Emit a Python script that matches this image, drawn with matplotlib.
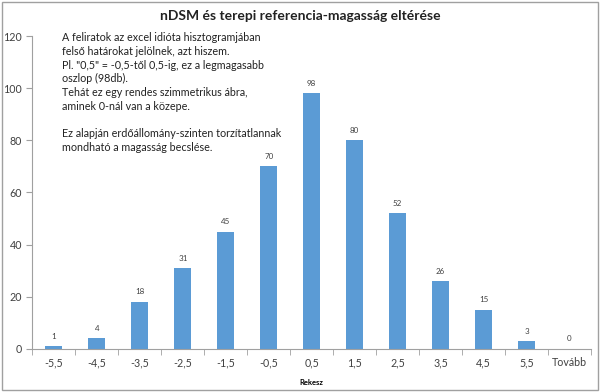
#!/usr/bin/env python3

import matplotlib.pyplot as plt
from matplotlib.patches import Rectangle

# Histogram bins (upper limits, as Excel labels them) and counts
bins = ['-5,5', '-4,5', '-3,5', '-2,5', '-1,5', '-0,5', '0,5',
        '1,5', '2,5', '3,5', '4,5', '5,5', 'Tovább']
counts = [1, 4, 18, 31, 45, 70, 98, 80, 52, 26, 15, 3, 0]

title = 'nDSM és terepi referencia-magasság eltérése'
note = ('A feliratok az excel idióta hisztogramjában\n'
        'felső határokat jelölnek, azt hiszem.\n'
        'Pl. "0,5" = -0,5-től 0,5-ig, ez a legmagasabb\n'
        'oszlop (98db).\n'
        'Tehát ez egy rendes szimmetrikus ábra,\n'
        'aminek 0-nál van a közepe.\n'
        '\n'
        'Ez alapján erdőállomány-szinten torzítatlannak\n'
        'mondható a magasság becslése.')

plt.rcParams['font.family'] = ['Lato', 'DejaVu Sans']

fig = plt.figure(figsize=(6, 3.92), dpi=100)
ax = fig.add_axes([0.054, 0.110, 0.931, 0.798])

x = list(range(len(bins)))
ax.bar(x, counts, width=0.4, color='#5B9BD5')

# value labels above each bar
for xi, c in zip(x, counts):
    ax.text(xi, c + 2.5, str(c), ha='center', va='bottom', fontsize=5.8,
            color='#404040')

ax.set_xlim(-0.5, len(bins) - 0.5)
ax.set_ylim(0, 120)
ax.set_yticks(range(0, 121, 20))
ax.set_xticks(x)
ax.set_xticklabels(bins)
ax.set_xticks([i - 0.5 for i in range(len(bins) + 1)], minor=True)
ax.tick_params(axis='x', which='major', length=0, labelsize=7.7, pad=6,
               colors='#404040')
ax.tick_params(axis='x', which='minor', length=4, color='#a0a0a0')
ax.tick_params(axis='y', length=4, color='#a0a0a0', labelsize=7.7,
               labelcolor='#404040')

for side in ['top', 'right']:
    ax.spines[side].set_visible(False)
for side in ['left', 'bottom']:
    ax.spines[side].set_color('#a0a0a0')
    ax.spines[side].set_linewidth(0.8)

ax.set_xlabel('Rekesz', fontsize=5.5, fontweight='bold', labelpad=8)

fig.text(0.5, 0.958, title, ha='center', va='center', fontsize=10,
         fontweight='bold', color='#222222')
fig.text(0.103, 0.918, note, ha='left', va='top', fontsize=7.75,
         linespacing=1.3, color='#222222')

# grey frame around the whole chart
fig.patches.append(Rectangle((0.004, 0.005), 0.992, 0.99,
                             transform=fig.transFigure, fill=False,
                             edgecolor='#a0a0a0', linewidth=1))

fig.savefig('out.png', dpi=100)
